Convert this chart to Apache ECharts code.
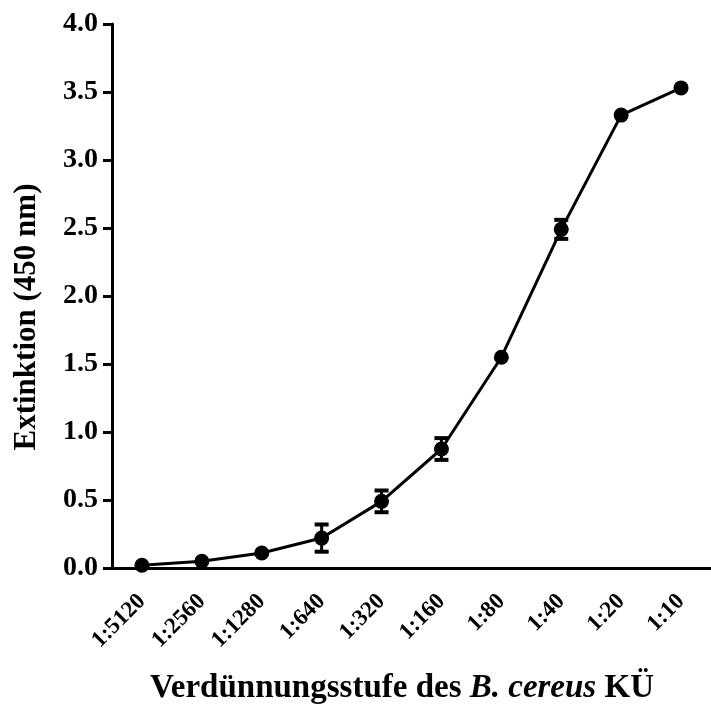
<!DOCTYPE html>
<html>
<head>
<meta charset="utf-8">
<script src="https://cdn.jsdelivr.net/npm/echarts@6/dist/echarts.min.js"></script>
<style>
  html, body { margin: 0; padding: 0; background: #fff; }
  #chart { width: 711px; height: 711px; }
</style>
</head>
<body>
<div id="chart"></div>
<script>
// Dilution steps of the B. cereus culture supernatant
const dilutions = ['1:5120', '1:2560', '1:1280', '1:640', '1:320', '1:160', '1:80', '1:40', '1:20', '1:10'];
// Mean extinction at 450 nm
const extinction = [0.02, 0.05, 0.11, 0.22, 0.49, 0.875, 1.55, 2.49, 3.33, 3.53];
// Standard deviation (0 = bar hidden behind the marker)
const sd = [0, 0, 0, 0.10, 0.08, 0.08, 0, 0.07, 0, 0];
const yTicks = [0, 0.5, 1.0, 1.5, 2.0, 2.5, 3.0, 3.5, 4.0];

const FONT = '"Liberation Serif", "Times New Roman", serif';

const chart = echarts.init(document.getElementById('chart'));

const errData = dilutions.map((d, i) => [i, extinction[i] - sd[i], extinction[i] + sd[i]]);

chart.setOption({
  animation: false,
  backgroundColor: '#fff',
  grid: { left: 112, top: 24, width: 610, height: 544, containLabel: false },
  title: {
    text: '{b|Verdünnungsstufe des }{i|B. cereus}{b| KÜ}',
    left: 150,
    top: 672,
    padding: 0,
    textStyle: {
      rich: {
        b: { fontFamily: FONT, fontWeight: 'bold', fontSize: 33, color: '#000' },
        i: { fontFamily: FONT, fontWeight: 'bold', fontStyle: 'italic', fontSize: 33, color: '#000' }
      }
    }
  },
  graphic: [
    {
      type: 'text',
      x: 27,
      y: 317,
      rotation: Math.PI / 2,
      style: {
        text: 'Extinktion (450 nm)',
        fontFamily: FONT, fontWeight: 'bold', fontSize: 31, fill: '#000',
        align: 'center', verticalAlign: 'middle'
      }
    }
  ],
  xAxis: {
    type: 'category',
    data: dilutions,
    boundaryGap: true,
    axisLine: { lineStyle: { color: '#000', width: 3 } },
    axisTick: { alignWithLabel: true, length: 9, lineStyle: { color: '#000', width: 3 } },
    axisLabel: {
      rotate: 45, margin: 30, color: '#000',
      fontFamily: FONT, fontWeight: 'bold', fontSize: 23
    },
    splitLine: { show: false }
  },
  yAxis: {
    type: 'value',
    min: 0, max: 4, interval: 0.5,
    axisLine: { show: true, lineStyle: { color: '#000', width: 3 } },
    axisTick: { show: true, length: 9, lineStyle: { color: '#000', width: 3 } },
    axisLabel: {
      margin: 14, color: '#000',
      fontFamily: FONT, fontWeight: 'bold', fontSize: 28,
      formatter: v => yTicks.includes(v) ? v.toFixed(1) : ''
    },
    splitLine: { show: false }
  },
  series: [
    {
      type: 'line',
      data: extinction,
      symbol: 'circle',
      symbolSize: 15,
      itemStyle: { color: '#000' },
      lineStyle: { color: '#000', width: 3 },
      z: 3
    },
    {
      type: 'custom',
      data: errData,
      z: 4,
      renderItem: function (params, api) {
        const i = api.value(0);
        const lo = api.coord([i, api.value(1)]);
        const hi = api.coord([i, api.value(2)]);
        if (Math.abs(lo[1] - hi[1]) < 1) return null;
        const half = 7;
        const style = { stroke: '#000', lineWidth: 3 };
        const capStyle = { stroke: '#000', lineWidth: 4 };
        return {
          type: 'group',
          children: [
            { type: 'line', shape: { x1: hi[0], y1: hi[1], x2: lo[0], y2: lo[1] }, style: style },
            { type: 'line', shape: { x1: hi[0] - half, y1: hi[1], x2: hi[0] + half, y2: hi[1] }, style: capStyle },
            { type: 'line', shape: { x1: lo[0] - half, y1: lo[1], x2: lo[0] + half, y2: lo[1] }, style: capStyle }
          ]
        };
      }
    }
  ]
});
</script>
</body>
</html>
